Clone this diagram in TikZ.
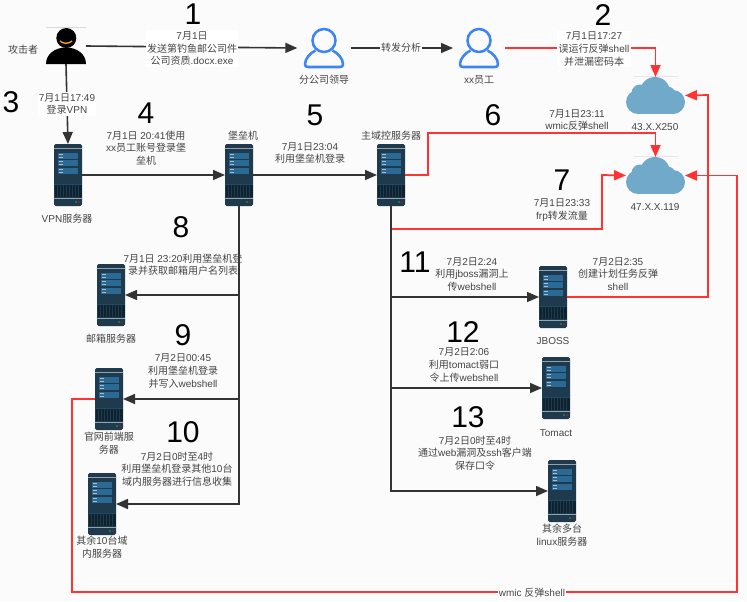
\documentclass[tikz,border=0pt]{standalone}
\usepackage{fontspec}
\usetikzlibrary{arrows.meta}
\setmainfont{Liberation Sans}
\newfontfamily\cjkf{Noto Sans CJK SC}
\XeTeXinterchartokenstate=1
\newXeTeXintercharclass\cjkcl
\count255="4E00
\loop\XeTeXcharclass\count255=\cjkcl\ifnum\count255<"9FFF\advance\count255 by 1\repeat
\XeTeXinterchartoks 0 \cjkcl={\begingroup\cjkf}
\XeTeXinterchartoks 4095 \cjkcl={\begingroup\cjkf}
\XeTeXinterchartoks \cjkcl 0={\endgroup}
\XeTeXinterchartoks \cjkcl 4095={\endgroup}
\definecolor{bgc}{HTML}{FBFBFB}
\definecolor{txt}{HTML}{444444}
\definecolor{linec}{HTML}{333333}
\definecolor{redl}{HTML}{FF3333}
\definecolor{bluep}{HTML}{3D85F5}
\definecolor{cloudc}{HTML}{71A9CB}
\definecolor{srvbody}{HTML}{1E3A4C}
\definecolor{srvdark}{HTML}{0F2230}
\definecolor{srvpanel}{HTML}{2A6A94}
\definecolor{srvstrip}{HTML}{8FA4B0}
\tikzset{
  lbl/.style={text=txt,align=center,inner sep=0pt,font=\fontsize{7.5}{9.4}\selectfont},
  wlbl/.style={lbl,fill=white,inner sep=1pt},
  bignum/.style={text=black,inner sep=0pt,font=\fontsize{22.5}{25}\selectfont},
  blk/.style={draw=linec,line width=1.2pt,-{Triangle[length=9pt,width=7.5pt]}},
  redarrow/.style={draw=redl,line width=1.3pt,-{Triangle[length=9pt,width=7.5pt]}},
  srvbox/.style={rectangle,rounded corners=1.2pt,fill=srvbody,minimum width=21pt,minimum height=46.5pt,inner sep=0pt,outer sep=0pt},
  personbox/.style={minimum width=39pt,minimum height=30pt,inner sep=0pt,outer sep=0pt},
  cloudbox/.style={minimum width=44.25pt,minimum height=27.75pt,inner sep=0pt,outer sep=0pt},
  attackerbox/.style={minimum width=30pt,minimum height=27pt,inner sep=0pt,outer sep=0pt},
}
\newcommand{\srvicon}[3]{%
  \node[srvbox] (#1) at ({#2+14},{#3+31}) {};
  \begin{scope}[shift={(#2,#3)}]
    \fill[srvstrip] (0,3.6) rectangle (28,4.6);
    \fill[srvpanel] (3.5,9) rectangle (24,15);
    \fill[srvpanel] (3.5,16) rectangle (24,21.5);
    \fill[srvpanel] (3.5,24) rectangle (24,30);
    \foreach \yy in {10.7,13.2,17.7,20.2,25.7,28.2}{\fill[srvstrip!70!white] (4.5,\yy-0.5) rectangle (8.5,\yy+0.5);}
    \fill[srvpanel!70!black] (0,39.6) rectangle (28,40.4);
    \fill[srvdark] (0.5,41) rectangle (27.5,53);
    \foreach \xx in {3,6,...,25}{\draw[srvbody,line width=0.2pt] (\xx,41) -- (\xx,53);}
    \fill[srvstrip] (0,53.5) rectangle (28,54.5);
    \fill[green!50!teal] (22,58) circle (0.9);
    \fill[red!70!purple] (25,58) circle (0.9);
  \end{scope}}
\newcommand{\personicon}[3]{%
  \node[personbox,minimum width=#3pt] (#1) at (#2) {};
  \begin{scope}[shift={(#2)}]
    \draw[bluep,line width=1.9pt] (0,-7.5) circle (11.5);
    \draw[bluep,line width=1.9pt,line join=round] (-8.5,2.5) .. controls (-14,5) and (-19,11) .. (-19,16) .. controls (-19,18) and (-18,19) .. (-16,19) -- (16,19) .. controls (18,19) and (19,18) .. (19,16) .. controls (19,11) and (14,5) .. (8.5,2.5);
  \end{scope}}
\newcommand{\cloudicon}[2]{%
  \node[cloudbox] (#1) at (#2) {};
  \begin{scope}[shift={(#2)}]
    \draw[black!10,line width=0.3pt] (-22,-19) -- (22,-19);
    \fill[cloudc] (-0.5,-3.5) circle (15);
    \fill[cloudc] (-15.5,-2.5) circle (8.5);
    \fill[cloudc] (-17.5,6.5) circle (12);
    \fill[cloudc] (17.5,6.5) circle (12);
    \fill[cloudc] (12,-1) circle (8);
    \fill[cloudc] (-17.5,2) rectangle (17.5,18.5);
  \end{scope}}
\begin{document}
\begin{tikzpicture}[x=0.75pt,y=-0.75pt]
\useasboundingbox (0,0) rectangle (747,601);
\fill[bgc] (0,0) rectangle (747,601);

% icons
\node[attackerbox] (atk) at (66,46) {};
\draw[black!15,line width=0.3pt] (46,27) -- (86,27);
\fill[black] (66.3,38) circle (10);
\draw[orange!70!yellow,line width=1pt] (60,41) .. controls (63,44) and (69,44) .. (72,41);
\fill[black] (46,64) .. controls (46,54) and (55,47.5) .. (66,47.5) .. controls (77,47.5) and (86,54) .. (86,64) -- cycle;

\personicon{lead}{324,48}{40}
\personicon{emp}{479,48}{39}
\cloudicon{cone}{655.5,95.5}
\cloudicon{ctwo}{655.5,175.5}

\srvicon{vpn}{54}{144}
\srvicon{bast}{225}{144}
\srvicon{dc}{377}{144}
\srvicon{mail}{97}{264}
\srvicon{web}{95}{368}
\srvicon{other}{88}{473}
\srvicon{jboss}{539}{266}
\srvicon{tomact}{542}{357}
\srvicon{linux}{548}{460}

% waypoints
\coordinate (ra) at (428,133);
\coordinate (rs) at (392,229);
\coordinate (rb) at (602,175);
\coordinate (rc) at (708,95);
\coordinate (rd) at (72,592);
\coordinate (re) at (737,175.5);

% black connectors
\draw[blk] (atk.east) -- (lead.west);
\draw[blk] (lead.east) -- (emp.west);
\draw[blk] (atk.south) -- (vpn.north);
\draw[blk] (vpn.east) -- (bast.west);
\draw[blk] (bast.east) -- (dc.west);
\draw[blk] (bast.south) |- (other.east);
\draw[blk] (bast.south) |- (mail.east);
\draw[blk] (bast.south) |- (web.east);
\draw[blk] (dc.south) |- (linux.west);
\draw[blk] (dc.south) |- (jboss.west);
\draw[blk] (dc.south) |- (tomact.west);

% red connectors
\draw[redarrow] (emp.east) -| (cone.north);
\draw[redarrow] (dc.east) -| (ra) -| (ctwo.north);
\draw[redarrow] (rs) -| (rb) -- (ctwo.west);
\draw[redarrow] (jboss.east) -| (rc) -- (cone.east);
\draw[redarrow] (web.west) -| (rd) -| (re) -- (ctwo.east);

% labels on icons
\node[lbl] (latk) at (23,50) {攻击者};
\node[lbl] (llead) at (324,80) {分公司领导};
\node[lbl] (lemp) at (479,80) {xx员工};
\node[lbl] (lcone) at (655,127) {43.X.X250};
\node[lbl] (lctwo) at (655,207) {47.X.X.119};
\node[lbl] (lvpn) at (67,219) {VPN服务器};
\node[lbl] (lbast) at (243,136) {堡垒机};
\node[lbl] (ldc) at (391,136) {主域控服务器};
\node[lbl] (lmail) at (111,339) {邮箱服务器};
\node[lbl] (lweb) at (109,443) {官网前端服\\务器};
\node[lbl] (lother) at (102,547) {其余10台域\\内服务器};
\node[lbl] (ljboss) at (553,341) {JBOSS};
\node[lbl] (ltomact) at (556,433) {Tomact};
\node[lbl] (llinux) at (562,535) {其余多台\\linux服务器};

% step labels
\node[wlbl] (s1) at (192,48.5) {7月1日\\发送第钓鱼邮公司件\\公司资质.docx.exe};
\node[wlbl] (sf) at (401,48) {转发分析};
\node[wlbl] (s2) at (594,49) {7月1日17:27\\误运行反弹shell\\并泄漏密码本};
\node[wlbl] (s3) at (67,104) {7月1日17:49\\登录VPN};
\node[lbl] (s4) at (146,148) {7月1日 20:41使用\\xx员工账号登录堡\\垒机};
\node[lbl] (s5) at (310,153) {7月1日23:04\\利用堡垒机登录};
\node[lbl] (s6) at (577,120) {7月1日23:11\\wmic反弹shell};
\node[lbl] (s7) at (562,210) {7月1日23:33\\frp转发流量};
\node[lbl] (s8) at (183,264.5) {7月1日 23:20利用堡垒机登\\录并获取邮箱用户名列表};
\node[lbl] (s9) at (183,371) {7月2日00:45\\利用堡垒机登录\\并写入webshell};
\node[lbl] (s10) at (177,469) {7月2日0时至4时\\利用堡垒机登录其他10台\\域内服务器进行信息收集};
\node[lbl] (s11) at (472,274) {7月2日2:24\\利用jboss漏洞上\\传webshell};
\node[lbl] (s11b) at (618,274) {7月2日2:35\\创建计划任务反弹\\shell};
\node[lbl] (s12) at (464,365) {7月2日2:06\\利用tomact弱口\\令上传webshell};
\node[lbl] (s13) at (475,453) {7月2日0时至4时\\通过web漏洞及ssh客户端\\保存口令};
\node[wlbl,inner sep=0.5pt] (swm) at (532,593) {wmic 反弹shell};

% step numbers
\node[bignum] (n1) at (193,14.5) {1};
\node[bignum] (n2) at (603,15) {2};
\node[bignum] (n3) at (11,102) {3};
\node[bignum] (n4) at (146,113) {4};
\node[bignum] (n5) at (315,115) {5};
\node[bignum] (n6) at (493,115) {6};
\node[bignum] (n7) at (562,180) {7};
\node[bignum] (n8) at (181,227) {8};
\node[bignum] (n9) at (183,335) {9};
\node[bignum] (n10) at (183,432) {10};
\node[bignum] (n11) at (415,262) {11};
\node[bignum] (n12) at (463,332) {12};
\node[bignum] (n13) at (468,417) {13};
\end{tikzpicture}
\end{document}
